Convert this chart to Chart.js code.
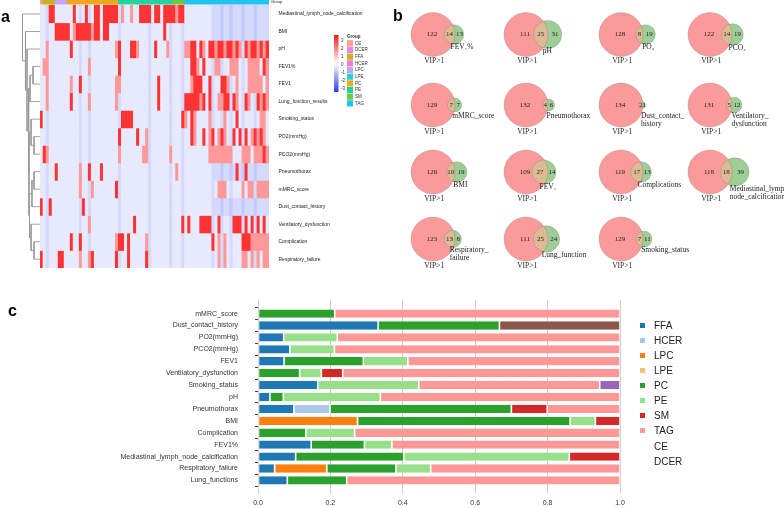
<!DOCTYPE html>
<html>
<head>
<meta charset="utf-8">
<script src="https://cdn.jsdelivr.net/npm/chart.js@4.4.1/dist/chart.umd.min.js"></script>
<style>
html, body { margin: 0; padding: 0; background: #fff; }
#wrap { position: relative; width: 784px; height: 508px; overflow: hidden; }
canvas { position: absolute; }
.tag { position: absolute; font: bold 16px "Liberation Sans", Arial, sans-serif; line-height: 1; color: #000; }
#legendC { position: absolute; left: 640px; top: 318px; font: 10px "Liberation Sans", Arial, sans-serif; color: #222; }
#legendC div { height: 15.07px; display: flex; align-items: center; white-space: nowrap; }
#legendC span { display: inline-block; width: 5px; height: 5px; margin-right: 9px; }
</style>
</head>
<body>
<div id="wrap">
  <canvas id="dendro" style="left:15px;top:0" width="25" height="270"></canvas>
  <canvas id="heat" style="left:0;top:0" width="385" height="270"></canvas>
  <canvas id="venn" style="left:385px;top:0" width="399" height="300"></canvas>
  <canvas id="bars" style="left:0;top:296px" width="784" height="212"></canvas>
  <div id="legendC"></div>
  <div class="tag" style="left:1px;top:9px">a</div>
  <div class="tag" style="left:393px;top:8px">b</div>
  <div class="tag" style="left:8px;top:303px">c</div>
</div>
<script>
// ---------- panel a: heatmap ----------
const heatRows = ["Mediastinal_lymph_node_calcification", "BMI", "pH", "FEV1%", "FEV1",
    "Lung_function_results", "Smoking_status", "PO2(mmHg)", "PCO2(mmHg)", "Pneumothorax",
    "mMRC_score", "Dust_contact_history", "Ventilatory_dysfunction", "Complication", "Respiratory_failure"];
const heatColCount = 76;
const heatRed = [
    [3, 4, 11, 15, 18, 19, 21, 22, 23, 24, 25, 33, 34, 35, 36, 38, 39, 41, 42, 43, 44, 46, 47],
    [5, 6, 7, 8, 9, 12, 13, 14, 15, 16, 18, 19, 21, 22, 41],
    [10, 26, 30, 31, 38, 50, 51, 53, 56, 57, 59, 60, 62, 63, 65, 68, 70, 71, 73, 75],
    [26, 50, 51, 54, 74],
    [13, 39, 51, 52, 53, 56, 60, 61],
    [10, 39, 48, 49, 50, 51, 52, 54, 56, 61, 62, 64, 68, 72, 74],
    [0, 27, 28, 29, 30, 47, 50, 65],
    [26, 32, 50, 54, 57, 60, 64, 66, 68, 71, 73],
    [1, 74],
    [5, 16, 20, 65, 68],
    [25],
    [0, 3, 14],
    [31, 47, 49, 53, 54, 55, 56, 59, 64, 65, 66, 68, 70, 72, 74],
    [10, 13, 26, 27, 29, 57, 67, 68, 69],
    [0, 6, 7, 17, 25, 29, 35]
];
const heatPink = [
    [27, 30, 45],
    [11, 17],
    [2, 25, 32, 42, 48, 49, 54, 58, 61, 64, 66, 69, 72, 74],
    [1, 2, 16, 52, 58, 59, 63, 64, 65, 69, 70, 71, 72, 75],
    [2, 10, 25, 26, 50, 62, 65, 69, 70, 71, 72, 73, 75],
    [2, 16, 25, 53, 59, 60, 65, 69, 73, 75],
    [48, 51, 56, 61, 73, 74],
    [35, 51, 56, 59, 61, 70, 72, 74],
    [2, 26, 34, 35, 43, 56, 57, 58, 59, 60, 61, 62, 63, 67, 68, 69, 71, 72, 73, 75],
    [13, 45],
    [13, 17, 59, 60, 61, 67, 69, 70, 72, 73, 74, 75],
    [],
    [16],
    [25, 35, 59, 61, 70, 71, 72, 73, 74, 75],
    [13, 16, 59, 61, 67, 68, 70, 72, 74, 75]
];
const heatBlueCols = [2, 13, 16, 26, 36, 43, 47, 57, 60, 63, 67, 71];
const heatBlueTailRows = [0, 1, 9, 11];
const lipidGroups = ["CE", "DCER", "FFA", "HCER", "LPC", "LPE", "PC", "PE", "SM", "TAG"];
const lipidGroupColors = ["#fa9e8e", "#f67ef5", "#c2b51f", "#f77ac8", "#c0a6f4", "#26d2d4", "#f2a722", "#22d39e", "#66cb45", "#22c3f1"];
const groupSpans = [["CE", 1], ["FFA", 4], ["LPC", 4], ["PC", 17], ["PE", 18], ["SM", 4], ["TAG", 28]];
const colorbarTicks = [3, 2, 1, 0, -1, -2, -3];

// row dendrogram: [child a, child b, height 0..1]; ids >= 15 are earlier merges
const dendroMerges = [[3, 4, 0.40], [15, 5, 0.57], [7, 8, 0.34], [6, 17, 0.51], [9, 10, 0.34],
    [19, 11, 0.46], [13, 14, 0.34], [12, 21, 0.51], [20, 22, 0.60], [18, 23, 0.63],
    [16, 24, 0.66], [2, 25, 0.74], [1, 26, 0.83], [0, 27, 1.0]];

// ---------- panel b: venn ----------
const vennNames = ["FEV\u2081%", "pH", "PO\u2082", "PCO\u2082", "mMRC_score", "Pneumothorax",
    "Dust_contact_\nhistory", "Ventilatory_\ndysfunction", "BMI", "FEV\u2081", "Complications",
    "Mediastinal_lymph_\nnode_calcification", "Respiratory_\nfailure", "Lung_function", "Smoking_status"];
const vennOnlyVip = [122, 111, 128, 122, 129, 132, 134, 131, 126, 109, 119, 118, 123, 111, 129];
const vennShared = [14, 25, 8, 14, 7, 4, 2, 5, 10, 27, 17, 18, 13, 25, 7];
const vennOnlyTrait = [13, 31, 19, 19, 7, 6, 1, 12, 19, 14, 13, 39, 8, 24, 11];

// ---------- panel c: stacked bars ----------
const traitNames = ["mMRC_score", "Dust_contact_history", "PO2(mmHg)", "PCO2(mmHg)", "FEV1",
    "Ventilatory_dysfunction", "Smoking_status", "pH", "Pneumothorax", "BMI", "Complication",
    "FEV1%", "Mediastinal_lymph_node_calcification", "Respiratory_failure", "Lung_functions"];
const lipidClasses = ["FFA", "HCER", "LPC", "LPE", "PC", "PE", "SM", "TAG", "CE", "DCER"];
const classColors = ["#1f77b4", "#aec7e8", "#ff7f0e", "#ffbb78", "#2ca02c", "#98df8a", "#d62728", "#ff9896", "#9467bd", "#8c564b"];
const shareFFA  = [0, 0.332, 0.071, 0.088, 0.072, 0, 0.165, 0.033, 0.099, 0, 0, 0.147, 0.104, 0.046, 0.081];
const shareHCER = [0, 0, 0, 0, 0, 0, 0, 0, 0.100, 0, 0, 0, 0, 0, 0];
const shareLPC  = [0, 0, 0, 0, 0, 0, 0, 0, 0, 0.275, 0, 0, 0, 0.144, 0];
const shareLPE  = [0, 0, 0, 0, 0, 0, 0, 0, 0, 0, 0, 0, 0, 0, 0];
const sharePC   = [0.212, 0.335, 0, 0, 0.219, 0.115, 0, 0.037, 0.501, 0.587, 0.132, 0.147, 0.299, 0.191, 0.164];
const sharePE   = [0, 0, 0.148, 0.123, 0.123, 0.060, 0.279, 0.268, 0, 0.070, 0.135, 0.076, 0.457, 0.096, 0];
const shareSM   = [0, 0, 0, 0, 0, 0.059, 0, 0, 0.099, 0.068, 0, 0, 0.140, 0, 0];
const shareTAG  = [0.788, 0, 0.781, 0.789, 0.586, 0.766, 0.500, 0.662, 0.201, 0, 0.733, 0.630, 0, 0.523, 0.755];
const shareCE   = [0, 0, 0, 0, 0, 0, 0.056, 0, 0, 0, 0, 0, 0, 0, 0];
const shareDCER = [0, 0.333, 0, 0, 0, 0, 0, 0, 0, 0, 0, 0, 0, 0, 0];
const xTicks = [0, 0.2, 0.4, 0.6, 0.8, 1.0];

Chart.defaults.font.family = '"Liberation Sans", Arial, sans-serif';
Chart.defaults.animation = false;
Chart.defaults.layout.autoPadding = false;

function heatColor(v) {
    const t = Math.min(Math.abs(v) / 3, 1);
    if (v >= 0) {
        const g = Math.round(255 - 235 * t);
        return `rgb(255,${g},${g})`;
    }
    return `rgb(${Math.round(255 - 215 * t)},${Math.round(255 - 195 * t)},${Math.round(255 - 20 * t)})`;
}

function cellValue(r, c) {
    if (heatRed[r].includes(c)) return 2.6;
    if (heatPink[r].includes(c)) return 1.3;
    let v = -0.33;
    if (heatBlueCols.includes(c)) v -= 0.25;
    if (heatBlueTailRows.includes(r) && c >= 58) v -= 0.25;
    return v;
}

// drop the half-label padding Chart.js reserves at the ends of an axis
function noEndPadding(scale) {
    scale.paddingTop = 0;
    scale.paddingBottom = 0;
    scale.paddingLeft = 0;
    scale.paddingRight = 0;
}

const colLabels = Array.from({ length: heatColCount }, (_, c) => String(c));
const groupColorByCol = [];
groupSpans.forEach(([g, n]) => {
    for (let k = 0; k < n; k++) groupColorByCol.push(lipidGroupColors[lipidGroups.indexOf(g)]);
});

const heatSets = heatRows.map((name, r) => ({
    label: name,
    data: colLabels.map(() => [r, r + 1]),
    backgroundColor: colLabels.map((_, c) => heatColor(cellValue(r, c))),
    borderWidth: 0,
    grouped: false,
    barPercentage: 1,
    categoryPercentage: 1
}));
heatSets.push({
    label: "Group",
    data: colLabels.map(() => [-0.29, -0.06]),
    backgroundColor: groupColorByCol,
    borderWidth: 0,
    grouped: false,
    barPercentage: 1,
    categoryPercentage: 1
});

const heatDecor = {
    id: "heatDecor",
    afterDraw(chart) {
        const ctx = chart.ctx;
        ctx.save();
        ctx.fillStyle = "#222";
        ctx.font = '4px "Liberation Sans", Arial, sans-serif';
        ctx.textBaseline = "middle";
        ctx.fillText("Group", 271, 2.2);

        // colour bar
        const top = 35, bottom = 92, x0 = 334;
        const grad = ctx.createLinearGradient(0, top, 0, bottom);
        grad.addColorStop(0, heatColor(3));
        grad.addColorStop(0.5, heatColor(0));
        grad.addColorStop(1, heatColor(-3));
        ctx.fillStyle = grad;
        ctx.fillRect(x0, top, 4.5, bottom - top);
        ctx.fillStyle = "#333";
        ctx.font = '4.5px "Liberation Sans", Arial, sans-serif';
        colorbarTicks.forEach(t => ctx.fillText(String(t), 341, 40.7 + (3 - t) * 8));

        // group legend
        ctx.font = 'bold 4.5px "Liberation Sans", Arial, sans-serif';
        ctx.fillText("Group", 347, 37);
        ctx.font = '4.5px "Liberation Sans", Arial, sans-serif';
        lipidGroups.forEach((g, i) => {
            const y = 43.3 + i * 6.67;
            ctx.fillStyle = lipidGroupColors[i];
            ctx.fillRect(347, y - 3.1, 6, 6.2);
            ctx.fillStyle = "#333";
            ctx.fillText(g, 355, y);
        });
        ctx.restore();
    }
};

new Chart(document.getElementById("heat"), {
    type: "bar",
    data: { labels: colLabels, datasets: heatSets },
    options: {
        responsive: false,
        events: [],
        layout: { padding: { left: 40, right: 0, top: 0, bottom: 2 } },
        plugins: { legend: { display: false }, tooltip: { enabled: false } },
        scales: {
            x: { display: false, offset: true },
            y: {
                type: "linear",
                position: "right",
                reverse: true,
                min: -0.3,
                max: 15,
                grid: { display: false },
                border: { display: false },
                afterBuildTicks: axis => { axis.ticks = heatRows.map((_, i) => ({ value: i + 0.5 })); },
                afterFit: scale => { scale.width = 116; noEndPadding(scale); },
                ticks: {
                    autoSkip: false,
                    padding: 1.5,
                    color: "#222",
                    font: { size: 5 },
                    callback: v => heatRows[Math.round(v - 0.5)]
                }
            }
        }
    },
    plugins: [heatDecor]
});

// dendrogram
const nodeX = [], nodeY = [];
heatRows.forEach((_, i) => { nodeX[i] = 40; nodeY[i] = i + 0.5; });
const dendroSets = dendroMerges.map(([a, b, h], k) => {
    const id = heatRows.length + k;
    const xm = 40 - h * 17.5;
    nodeX[id] = xm;
    nodeY[id] = (nodeY[a] + nodeY[b]) / 2;
    return {
        data: [{ x: nodeX[a], y: nodeY[a] }, { x: xm, y: nodeY[a] }, { x: xm, y: nodeY[b] }, { x: nodeX[b], y: nodeY[b] }],
        showLine: true,
        borderColor: "#999999",
        borderWidth: 0.9,
        pointRadius: 0,
        tension: 0
    };
});

new Chart(document.getElementById("dendro"), {
    type: "scatter",
    data: { datasets: dendroSets },
    options: {
        responsive: false,
        events: [],
        layout: { padding: { bottom: 2 } },
        plugins: { legend: { display: false }, tooltip: { enabled: false } },
        scales: {
            x: { type: "linear", min: 15, max: 40, display: false },
            y: { type: "linear", min: -0.3, max: 15, reverse: true, display: false }
        }
    }
});

// ---------- panel b ----------
const R_BIG = 22;
const VENN_COLS = [433, 526, 621, 710];
const VENN_ROWS = [34.5, 105, 172, 239];

function lensArea(r1, r2, d) {
    if (d >= r1 + r2) return 0;
    if (d <= Math.abs(r1 - r2)) return Math.PI * Math.min(r1, r2) ** 2;
    const a = r1 * r1 * Math.acos((d * d + r1 * r1 - r2 * r2) / (2 * d * r1));
    const b = r2 * r2 * Math.acos((d * d + r2 * r2 - r1 * r1) / (2 * d * r2));
    const c = 0.5 * Math.sqrt((-d + r1 + r2) * (d + r1 - r2) * (d - r1 + r2) * (d + r1 + r2));
    return a + b - c;
}

const vennLayout = vennOnlyVip.map((a, i) => {
    const ab = vennShared[i], b = vennOnlyTrait[i];
    const k = Math.PI * R_BIG * R_BIG / (a + ab);
    const r2 = Math.sqrt((b + ab) * k / Math.PI);
    const target = ab * k;
    let lo = R_BIG - r2, hi = R_BIG + r2;
    for (let it = 0; it < 60; it++) {
        const mid = (lo + hi) / 2;
        if (lensArea(R_BIG, r2, mid) > target) lo = mid; else hi = mid;
    }
    const cx1 = VENN_COLS[i % 4];
    return { cx1, cy: VENN_ROWS[Math.floor(i / 4)], r1: R_BIG, cx2: cx1 + (lo + hi) / 2, r2 };
});

const vennDecor = {
    id: "vennDecor",
    afterDatasetsDraw(chart) {
        const { ctx, scales: { x, y } } = chart;
        ctx.save();
        vennLayout.forEach((v, i) => {
            const X1 = x.getPixelForValue(v.cx1), X2 = x.getPixelForValue(v.cx2), Y = y.getPixelForValue(v.cy);
            ctx.save();
            ctx.beginPath();
            ctx.arc(X1, Y, v.r1, 0, 2 * Math.PI);
            ctx.clip();
            ctx.beginPath();
            ctx.arc(X2, Y, v.r2, 0, 2 * Math.PI);
            ctx.fillStyle = "rgb(220,186,148)";
            ctx.fill();
            ctx.restore();

            ctx.strokeStyle = "rgba(110,110,110,0.45)";
            ctx.lineWidth = 0.6;
            ctx.beginPath(); ctx.arc(X1, Y, v.r1, 0, 2 * Math.PI); ctx.stroke();
            ctx.beginPath(); ctx.arc(X2, Y, v.r2, 0, 2 * Math.PI); ctx.stroke();

            ctx.fillStyle = "#222";
            ctx.font = '7px "Liberation Serif", "DejaVu Serif", serif';
            ctx.textAlign = "center";
            ctx.textBaseline = "middle";
            ctx.fillText(String(vennOnlyVip[i]), X1 - 1, Y);
            ctx.fillText(String(vennShared[i]), ((X2 - v.r2) + (X1 + v.r1)) / 2, Y);
            ctx.fillText(String(vennOnlyTrait[i]), ((X1 + v.r1) + (X2 + v.r2)) / 2, Y);

            ctx.font = '7.5px "Liberation Serif", "DejaVu Serif", serif';
            ctx.textAlign = "left";
            ctx.textBaseline = "top";
            ctx.fillText("VIP>1", X1 - 0.4 * v.r1, Y + v.r1 + 1);
            vennNames[i].split("\n").forEach((line, j) => {
                ctx.fillText(line, X2 - 0.35 * v.r2, Y + Math.max(v.r2, 8) - 1 + j * 8);
            });
        });
        ctx.restore();
    }
};

new Chart(document.getElementById("venn"), {
    type: "bubble",
    data: {
        datasets: [
            {
                data: vennLayout.map(v => ({ x: v.cx1, y: v.cy, r: v.r1 })),
                backgroundColor: "rgb(250,154,154)",
                borderWidth: 0
            },
            {
                data: vennLayout.map(v => ({ x: v.cx2, y: v.cy, r: v.r2 })),
                backgroundColor: "rgb(157,206,150)",
                borderWidth: 0
            }
        ]
    },
    options: {
        responsive: false,
        events: [],
        layout: { autoPadding: false, padding: 0 },
        plugins: { legend: { display: false }, tooltip: { enabled: false } },
        scales: {
            x: { type: "linear", min: 385, max: 784, display: false },
            y: { type: "linear", min: 0, max: 300, reverse: true, display: false }
        }
    },
    plugins: [vennDecor]
});

// ---------- panel c ----------
const shares = [shareFFA, shareHCER, shareLPC, shareLPE, sharePC, sharePE, shareSM, shareTAG, shareCE, shareDCER];
const barChart = new Chart(document.getElementById("bars"), {
    type: "bar",
    data: {
        datasets: lipidClasses.map((name, k) => ({
            label: name,
            data: shares[k].map((v, i) => ({ x: v > 0 ? v : null, y: i })),
            backgroundColor: classColors[k],
            borderColor: "#ffffff",
            borderWidth: { left: 0.8, right: 0.8, top: 0, bottom: 0 },
            borderSkipped: false,
            barPercentage: 0.7,
            categoryPercentage: 1
        }))
    },
    options: {
        indexAxis: "y",
        responsive: false,
        events: [],
        layout: { padding: { left: 0, top: 4, right: 164, bottom: 0 } },
        plugins: { legend: { display: false }, tooltip: { enabled: false } },
        scales: {
            x: {
                type: "linear",
                stacked: true,
                min: 0,
                max: 1,
                afterBuildTicks: axis => { axis.ticks = xTicks.map(v => ({ value: v })); },
                afterFit: scale => { scale.height = 14; noEndPadding(scale); },
                grid: { color: "#cfcfcf", lineWidth: 1, drawTicks: false },
                border: { display: false },
                ticks: { padding: 5, color: "#333", font: { size: 7 }, callback: v => v.toFixed(1) }
            },
            y: {
                type: "linear",
                stacked: true,
                reverse: true,
                offset: false,
                min: -1.14,
                max: traitNames.length - 1 + 1.14,
                afterBuildTicks: axis => { axis.ticks = traitNames.map((_, i) => ({ value: i })); },
                afterFit: scale => { scale.width = 258; noEndPadding(scale); },
                grid: { drawOnChartArea: false, drawTicks: true, tickLength: 3, color: "#444" },
                border: { display: false },
                ticks: { autoSkip: false, padding: 17, color: "#333", font: { size: 7 }, callback: v => traitNames[v] }
            }
        }
    }
});

// legend built from the chart's own legend items
const noSwatch = ["CE", "DCER"];
const legendBox = document.getElementById("legendC");
Chart.defaults.plugins.legend.labels.generateLabels(barChart).forEach(item => {
    const row = document.createElement("div");
    const sw = document.createElement("span");
    sw.style.background = noSwatch.includes(item.text) ? "transparent" : item.fillStyle;
    row.appendChild(sw);
    row.appendChild(document.createTextNode(item.text));
    legendBox.appendChild(row);
});
</script>
</body>
</html>
